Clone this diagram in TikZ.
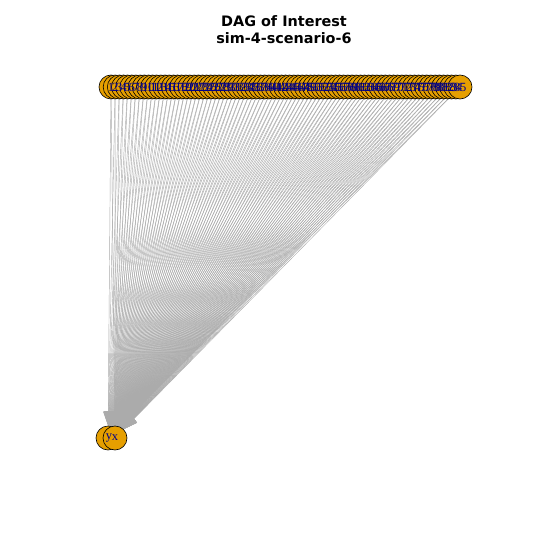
\documentclass[tikz,border=0pt]{standalone}
\usepackage{fontspec}
\setmainfont{Liberation Serif}
\newfontfamily\titlefont{DejaVu Sans}
\usetikzlibrary{arrows.meta}
\pgfdeclarelayer{bottom}
\pgfdeclarelayer{background}
\pgfdeclarelayer{foreground}
\pgfsetlayers{bottom,background,main,foreground}
\definecolor{vfill}{HTML}{E69F00}
\definecolor{edgecol}{HTML}{ABABAB}
\definecolor{labcol}{HTML}{00008B}
\tikzset{
  vert/.style={circle,draw=black,fill=vfill,line width=0.6pt,minimum size=24pt,inner sep=0pt},
  vlab/.style={text=labcol,font=\fontsize{12.5}{12.5}\selectfont,inner sep=0pt},
  edge/.style={draw=edgecol,line width=0.45pt,-{Triangle[length=14pt,width=10pt]}},
  ttl/.style={font=\titlefont\bfseries\fontsize{14.4}{17}\selectfont,align=center}
}
\begin{document}
\begin{tikzpicture}[x=1pt,y=-1pt]
\begin{pgfonlayer}{bottom}
\fill[white] (0,0) rectangle (540,540);
\end{pgfonlayer}
\useasboundingbox (0,0) rectangle (540,540);
\node[ttl] (title) at (284,30) {DAG of Interest\\ sim-4-scenario-6};
\foreach \i in {1,...,85}{
  \pgfmathsetmacro{\xx}{111+(\i-1)*4.15476}
  \node[vert] (v\i) at (\xx,87) {};
}
\node[vert] (y) at (108,438) {};
\node[vert] (x) at (115,438) {};
\begin{pgfonlayer}{background}
\foreach \i in {1,...,85}{
  \draw[edge] (v\i) -- (y);
  \draw[edge] (v\i) -- (x);
}
\end{pgfonlayer}
\begin{pgfonlayer}{foreground}
\foreach \i in {1,...,85}{
  \node[vlab] (l\i) at (v\i) {\i};
}
\node[vlab] (ly) at (109,438) {y};
\node[vlab] (lx) at (115,438) {x};
\end{pgfonlayer}
\end{tikzpicture}
\end{document}
